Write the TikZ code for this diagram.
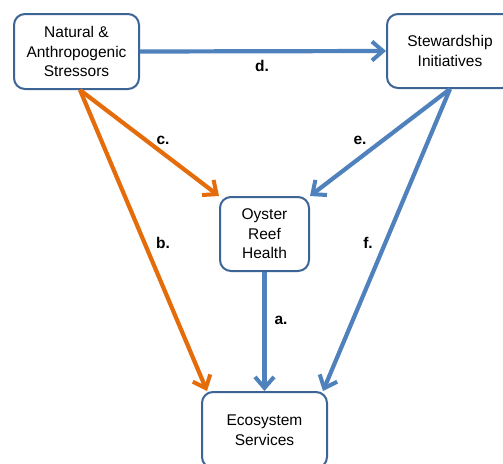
\documentclass[tikz,border=0pt]{standalone}
\usepackage{fontspec}
\setmainfont{Liberation Sans}
\usetikzlibrary{arrows.meta}
\definecolor{boxline}{HTML}{3C6596}
\definecolor{arrblue}{HTML}{4F81BD}
\definecolor{arrorange}{HTML}{E46C0A}
\tikzset{
  boxnode/.style={draw=boxline, line width=2pt, rounded corners=11pt, fill=white,
    align=center, inner sep=0pt, font=\fontsize{15.5}{19.5}\selectfont},
  conn/.style={line width=4.2pt, -{Straight Barb[length=11pt,width=19pt,line width=4pt]}},
  bluearr/.style={conn, draw=arrblue},
  orangearr/.style={conn, draw=arrorange},
  lbl/.style={font=\bfseries\fontsize{15.5}{17}\selectfont, inner sep=0pt}
}
\begin{document}
\begin{tikzpicture}[x=1pt,y=-1pt]
\useasboundingbox (0,0) rectangle (503,463);
\fill[white] (0,0) rectangle (503,463);
\node[boxnode, minimum width=125pt, minimum height=75pt] (nat) at (76.5,51.5) {Natural \&\\Anthropogenic\\Stressors};
\node[boxnode, minimum width=126pt, minimum height=74pt] (stew) at (450,51) {Stewardship\\Initiatives};
\node[boxnode, minimum width=89pt, minimum height=74pt] (oys) at (264.5,234) {Oyster\\Reef\\Health};
\node[boxnode, minimum width=125pt, minimum height=76pt] (eco) at (264.5,430) {Ecosystem\\Services};

\draw[bluearr] (nat.east) -- (stew.west);
\draw[orangearr] ([xshift=3.5pt]nat.south) -- (oys.north west);
\draw[orangearr] ([xshift=3.5pt]nat.south) -- ([xshift=6pt]eco.north west);
\draw[bluearr] (stew.south) -- (oys.north east);
\draw[bluearr] (stew.south) -- ([xshift=-5pt]eco.north east);
\draw[bluearr] (oys.south) -- (eco.north);

\node[lbl] (ld) at (262,66) {d.};
\node[lbl] (lc) at (163,140) {c.};
\node[lbl] (le) at (360,140) {e.};
\node[lbl] (lb) at (163,243) {b.};
\node[lbl] (lf) at (368,243) {f.};
\node[lbl] (la) at (281,320) {a.};
\end{tikzpicture}
\end{document}
